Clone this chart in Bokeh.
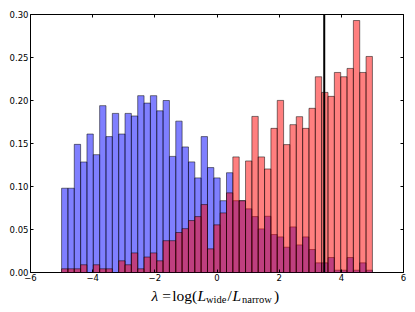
import numpy as np
from bokeh.plotting import figure
from bokeh.models import Span, LinearAxis, FixedTicker, Range1d
from bokeh.layouts import column
from bokeh.core.properties import value
from bokeh.embed import file_html
from bokeh.resources import INLINE

# ---- data ----
bin_lo, bin_hi, n_edges = -5.0, 5.0, 50
blue_vals = [0.098, 0.098, 0.149, 0.1285, 0.161, 0.137, 0.194, 0.158, 0.185, 0.161,
             0.185, 0.182, 0.2056, 0.197, 0.2056, 0.188, 0.2, 0.135, 0.176, 0.146,
             0.1286, 0.110, 0.158, 0.122, 0.110, 0.0835, 0.116,
             0.0835, 0.0835, 0.074, 0.065, 0.0507, 0.0654, 0.0441, 0.0414, 0.0294, 0.053,
             0.0321, 0.0414, 0.0267, 0.0112, 0.0112, 0.0174, 0.0027, 0.0027, 0.0174, 0.0027,
             0.0112, 0.0027]
red_vals = [0.0043, 0.0043, 0.0043, 0.009, 0.0, 0.009, 0.0043, 0.0043, 0.0, 0.0136,
            0.009, 0.0228, 0.0043, 0.018, 0.0228, 0.0136, 0.037, 0.037, 0.0465, 0.051,
            0.0604, 0.065, 0.079, 0.0275, 0.0554, 0.0693, 0.0926,
            0.1344, 0.0835, 0.1297, 0.1815, 0.1344, 0.1204, 0.1676, 0.2001, 0.1487, 0.1719,
            0.1812, 0.1676, 0.1909,
            0.2276, 0.2094, 0.2048, 0.2326, 0.2276, 0.2373, 0.293, 0.2326, 0.2512]
threshold = 3.45

x_ticks = [-6, -4, -2, 0, 2, 4, 6]
x_tick_labels = ["\u22126", "\u22124", "\u22122", "0", "2", "4", "6"]
y_ticks = [0.0, 0.05, 0.10, 0.15, 0.20, 0.25, 0.30]
y_tick_labels = ["0.00", "0.05", "0.10", "0.15", "0.20", "0.25", "0.30"]

# x-axis label pieces: lambda = log(L_wide / L_narrow)
label_texts = ["\u03bb", "=", "log(", "L", "wide", "/", "L", "narrow", ")"]
label_styles = ["italic", "normal", "normal", "italic", "normal", "normal", "italic", "normal", "normal"]
label_sizes = ["15.5px", "15.5px", "15.5px", "15.5px", "10.5px", "15.5px", "15.5px", "10.5px", "15.5px"]
label_dx = [-65.5, -54.8, -44.8, -19.5, -11.0, 10.5, 15.5, 25.0, 57.0]
label_sub = [False, False, False, False, True, False, False, True, False]

edges = np.linspace(bin_lo, bin_hi, n_edges)
left, right = edges[:-1], edges[1:]

W, H = 415, 312
ML, MR, MT, MB = 30, 12, 14, 11
MAIN_H = 283
STRIP_H = H - MAIN_H

p = figure(width=W, height=MAIN_H, x_range=(-6, 6), y_range=(0, 0.30),
           output_backend="svg", toolbar_location=None,
           min_border_left=ML, min_border_right=MR, min_border_top=MT, min_border_bottom=MB)
p.grid.visible = False
p.outline_line_color = "black"
p.outline_line_width = 1
p.outline_line_alpha = 1

p.quad(left=left, right=right, bottom=0, top=blue_vals, fill_color="blue", fill_alpha=0.5,
       line_color="black", line_alpha=0.5, line_width=1)
p.quad(left=left, right=right, bottom=0, top=red_vals, fill_color="red", fill_alpha=0.5,
       line_color="black", line_alpha=0.5, line_width=1)

p.add_layout(Span(location=threshold, dimension="height", line_color="black", line_width=2))

def style_axis(ax, ticks, labels, show):
    ax.ticker = FixedTicker(ticks=ticks)
    ax.major_label_overrides = {t: l for t, l in zip(ticks, labels)}
    ax.axis_line_color = None
    ax.major_tick_in = 3
    ax.major_tick_out = 0
    ax.minor_tick_line_color = None
    ax.major_tick_line_color = "black"
    ax.major_label_text_font = "DejaVu Sans"
    ax.major_label_text_color = "black"
    if show:
        ax.major_label_text_font_size = "8.5px"
    else:
        ax.major_label_text_font_size = "0px"
        ax.major_label_standoff = 0

style_axis(p.xaxis[0], x_ticks, x_tick_labels, True)
p.xaxis[0].major_label_standoff = 1
style_axis(p.yaxis[0], y_ticks, y_tick_labels, True)
p.yaxis[0].major_label_standoff = 2

top_ax = LinearAxis()
right_ax = LinearAxis()
style_axis(top_ax, x_ticks, ["" for _ in x_ticks], False)
style_axis(right_ax, y_ticks, ["" for _ in y_ticks], False)
p.add_layout(top_ax, "above")
p.add_layout(right_ax, "right")

# strip below the plot for the composite axis label, sharing the x scale
q = figure(width=W, height=STRIP_H, x_range=p.x_range, y_range=Range1d(0, STRIP_H),
           output_backend="svg", toolbar_location=None,
           x_axis_location=None, y_axis_location=None,
           min_border_left=ML, min_border_right=MR, min_border_top=0, min_border_bottom=0)
q.grid.visible = False
q.outline_line_color = None

def strip_y(py):
    return H - py

for txt, st, sz, dx, sub in zip(label_texts, label_styles, label_sizes, label_dx, label_sub):
    q.text(x=[0], y=[strip_y(298.5 if sub else 295)], text=[txt], x_offset=dx,
           text_font=value("Liberation Serif"),
           text_font_style=st, text_font_size=sz, text_color="black",
           text_baseline="alphabetic", text_align="left")

layout = column(p, q, spacing=0)
open("out.html", "w").write(file_html(layout, INLINE))
